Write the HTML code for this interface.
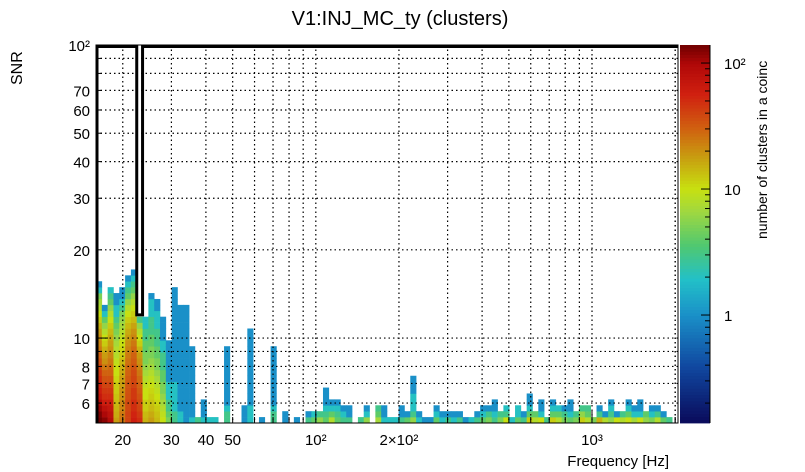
<!DOCTYPE html>
<html><head><meta charset="utf-8"><style>
body{margin:0;background:#fff;}
svg{display:block;font-family:"Liberation Sans",sans-serif;}
</style></head><body>
<svg id="c" width="805" height="472" viewBox="0 0 805 472">
<text x="400" y="25" font-size="20" text-anchor="middle" fill="#000">V1:INJ_MC_ty (clusters)</text>
<text transform="translate(22,85) rotate(-90)" font-size="16" text-anchor="start">SNR</text>
<text x="669" y="466" font-size="15" text-anchor="end">Frequency [Hz]</text>
<text transform="translate(767,239) rotate(-90)" font-size="14" text-anchor="start">number of clusters in a coinc</text>
<g id="cells"></g>
<g id="grid"></g>
<g id="axes"></g>
<g id="cbar"></g>
</svg>
<script>
// Axis ranges
const xRange = [16, 2048];
const yRange = [5.13, 100];
const zRange = [0.139, 139];
const nxBins = 100;
const nyBins = 64;
// Column contents: counts per SNR bin, from the lowest bin upwards (index = frequency bin)
const colCounts = [
 [150,130,110,90,70,60,55,50,45,40,35,30,25,22,20,18,15,12,10,8,7,5,2,1],
 [120,100,80,60,50,45,40,35,30,25,20,18,15,12,10,8,6,4,2,1],
 [90,80,70,60,50,45,40,35,30,28,25,22,20,18,16,14,12,10,8,6,4,3,2],
 [18,16,15,14,13,12,12,11,10,10,9,8,8,7,6,5,4,3,2,2,1,1],
 [25,25,22,22,20,20,18,18,16,15,14,12,11,10,9,8,7,6,5,3,2,1,1],
 [40,40,38,38,36,35,34,32,30,28,26,24,22,20,18,16,14,12,10,8,6,4,3,2,1],
 [60,55,50,50,45,45,40,40,38,35,32,30,28,25,22,20,17,14,12,10,8,6,4,3,2,1],
 [50,45,40,38,35,32,30,28,25,22,20,18,15,12,10,8,6,3],
 [15,14,12,12,10,10,9,8,7,6,5,5,4,4,3,3,2,2],
 [18,16,14,13,12,11,10,9,8,7,6,5,5,4,4,3,3,3,2,2,2,1],
 [14,13,12,11,10,9,8,7,6,5,5,4,4,3,3,3,2,2,2,1,1],
 [10,9,8,7,6,5,5,4,4,3,3,3,2,2,1,1,1,1],
 [5,4,3,3,2,2,2,1,1,1,1,1,1,1],
 [3,3,2,2,2,2,2,1,1,1,1,1,1,1,1,1,1,1,1,1,1,1,1],
 [2,2,1,1,1,1,1,1,1,1,1,1,1,1,1,1,1,1,1,1],
 [1,1,1,1,1,1,1,1,1,1,1,1,1,1,1,1,1,1,1,1],
 [2,1,1,1,1,1,1,1,1,1,1,1,1],
 [3],[2,1,1,1],[2],[2],[],
 [3,3,2,1,1,1,1,1,1,1,1,1,1],
 [],[],[1,1,1],
 [2,2,2,1,1,1,1,1,1,1,1,1,1,1,1,1],
 [],[1],[],
 [3,3,2,1,1,1,1,1,1,1,1,1,1],
 [],[1,1],[],[1],[],
 [3,1],[4,2],[6,3],[4,3,2,1,1,1],[8,4,2,1],[4,3,2,1],[3,2,1],[3,1,1],[],[3],
 [6,2,1],[],[7,4,3],[2,1,1],[2],[2],[3,1,1],[4,1],[6,3,2,2,2,1,1,1],[2,1],
 [1],[1],[4,2,1],[2,1],[3,1],[2,1],[3,1],[1],[2],[3,1],
 [4,2,1],[5,3,1],[3,2,1,1],[5,3],[10,3,2],[2],[4,2,2],[3,1],[12,4,2,1,1],[8,4],
 [10,2,1,1],[3],[12,4,2,1],[8,4,2],[5,3,1],[4,2,1,1],[5,3],[12,6,3],[8,4,3],[5],
 [15,3,1],[8,1],[6,3,2,1],[10,1],[8,3],[10,4,2,1],[7,2,1],[10,2,1,1],[6,4],[5,2,1],
 [8,3,1],[4,1],[3],[]
];
// Tick labels
const xMajorTicks = [20,30,40,50,100,200,1000];
const xTickLabels = ["20","30","40","50","10²","2×10²","10³"];
const yLabelTicks = [6,7,8,10,20,30,40,50,60,70,100];
const yTickLabels = ["6","7","8","10","20","30","40","50","60","70","10²"];
const zLabelTicks = [1,10,100];
const zTickLabels = ["1","10","10²"];
// Outline histogram: bin with lower edge value (in SNR)
const outlineNotchBin = 7;
const outlineNotchValue = 12;

const NS="http://www.w3.org/2000/svg";
const PX0=96,PX1=678,PY0=45,PY1=423;
function X(f){return PX0+(Math.log10(f)-Math.log10(xRange[0]))/(Math.log10(xRange[1])-Math.log10(xRange[0]))*(PX1-PX0);}
function Y(v){return PY1-(Math.log10(v)-Math.log10(yRange[0]))/(Math.log10(yRange[1])-Math.log10(yRange[0]))*(PY1-PY0);}
function Z(v){return PY1-(Math.log10(v)-Math.log10(zRange[0]))/(Math.log10(zRange[1])-Math.log10(zRange[0]))*(PY1-PY0);}
function binX(i){return xRange[0]*Math.pow(xRange[1]/xRange[0],i/nxBins);}
function binY(j){return yRange[0]*Math.pow(yRange[1]/yRange[0],j/nyBins);}
const stops=[[0,[10,10,90]],[0.15,[16,72,160]],[0.286,[26,144,200]],[0.38,[34,192,200]],[0.47,[80,200,112]],[0.56,[160,216,64]],[0.62,[200,224,16]],[0.70,[200,160,16]],[0.78,[208,96,16]],[0.87,[208,32,16]],[0.95,[176,8,8]],[1,[112,0,0]]];
function col(v){
 let f=(Math.log10(v)-Math.log10(zRange[0]))/(Math.log10(zRange[1])-Math.log10(zRange[0]));
 f=Math.max(0,Math.min(1,f));
 for(let k=1;k<stops.length;k++){if(f<=stops[k][0]){const a=stops[k-1],b=stops[k],t=(f-a[0])/(b[0]-a[0]);
  const c=a[1].map((q,i)=>Math.round(q+(b[1][i]-q)*t));return `rgb(${c})`;}}
 return 'rgb(112,0,0)';
}
function el(tag,attrs,parent){const e=document.createElementNS(NS,tag);for(const k in attrs)e.setAttribute(k,attrs[k]);parent.appendChild(e);return e;}
const cells=document.getElementById('cells');
colCounts.forEach((arr,i)=>{
 const x0=X(binX(i)),x1=X(binX(i+1));
 arr.forEach((v,j)=>{
  if(v<=0)return;
  const y0=Y(binY(j)),y1=Y(binY(j+1));
  const r=el('rect',{x:x0.toFixed(2),y:y1.toFixed(2),width:(x1-x0+0.3).toFixed(2),height:(y0-y1+0.3).toFixed(2),fill:col(v)},cells);
  
  
 });
});
// grid
const grid=document.getElementById('grid');
const xGrid=[];for(let d=10;d<=1000;d*=10)for(let m=1;m<=9;m++){const v=d*m;if(v>xRange[0]&&v<xRange[1])xGrid.push(v);}
xGrid.push(2000);
xGrid.forEach(v=>{const x=X(v);const l=el('line',{x1:x,x2:x,y1:PY0,y2:PY1,stroke:'#000','stroke-width':1.2,'stroke-dasharray':'1.5,3'},grid);
 });
const yGrid=[6,7,8,9,10,20,30,40,50,60,70,80,90];
yGrid.forEach(v=>{const y=Y(v);const l=el('line',{x1:PX0,x2:PX1,y1:y,y2:y,stroke:'#000','stroke-width':1.2,'stroke-dasharray':'1.5,3'},grid);
 });
// axes
const ax=document.getElementById('axes');
el('rect',{x:PX0,y:PY0,width:PX1-PX0,height:PY1-PY0,fill:'none',stroke:'#000','stroke-width':1},ax);
xGrid.forEach(v=>{const x=X(v);const major=[100,1000].includes(v);const len=major?12:6;
 el('line',{x1:x,x2:x,y1:PY1,y2:PY1-len,stroke:'#000','stroke-width':1},ax);});
xMajorTicks.forEach((v,i)=>{const t=el('text',{x:X(v),y:PY1+22,'font-size':15,'text-anchor':'middle'},ax);t.textContent=xTickLabels[i];
 });
yGrid.concat([100]).forEach(v=>{const y=Y(v);const major=(v===10||v===100);
 el('line',{x1:PX0,x2:PX0+(major?12:6),y1:y,y2:y,stroke:'#000','stroke-width':1},ax);});
yLabelTicks.forEach((v,i)=>{const t=el('text',{x:PX0-6,y:Y(v)+6,'font-size':15,'text-anchor':'end'},ax);t.textContent=yTickLabels[i];
 });
// outline histogram
const xn0=X(binX(outlineNotchBin)),xn1=X(binX(outlineNotchBin+1)),yn=Y(outlineNotchValue);
const p=el('path',{d:`M${PX0+1},${PY1} L${PX0+1},${PY0+1.5} L${xn0},${PY0+1.5} L${xn0},${yn} L${xn1},${yn} L${xn1},${PY0+1.5} L${PX1},${PY0+1.5}`,fill:'none',stroke:'#000','stroke-width':3},ax);

// colorbar
const cb=document.getElementById('cbar');
const CX0=680,CX1=710,N=120;
for(let k=0;k<N;k++){const y0=PY1-(k+1)*(PY1-PY0)/N,y1=PY1-k*(PY1-PY0)/N;
 const v=zRange[0]*Math.pow(zRange[1]/zRange[0],(k+0.5)/N);
 el('rect',{x:CX0,y:y0.toFixed(2),width:CX1-CX0,height:(y1-y0+0.4).toFixed(2),fill:col(v)},cb);}
el('line',{x1:CX1,x2:CX1,y1:PY0,y2:PY1,stroke:'#000','stroke-width':1},cb);
for(let d=0.1;d<=100;d*=10)for(let m=1;m<=9;m++){const v=d*m;if(v<zRange[0]||v>zRange[1])continue;const y=Z(v);const major=(m===1);
 el('line',{x1:CX1,x2:CX1-(major?9:5),y1:y,y2:y,stroke:'#000','stroke-width':1},cb);}
zLabelTicks.forEach((v,i)=>{const t=el('text',{x:724,y:Z(v)+6,'font-size':15,'text-anchor':'start'},cb);t.textContent=zTickLabels[i];
 });
</script>
</body></html>
